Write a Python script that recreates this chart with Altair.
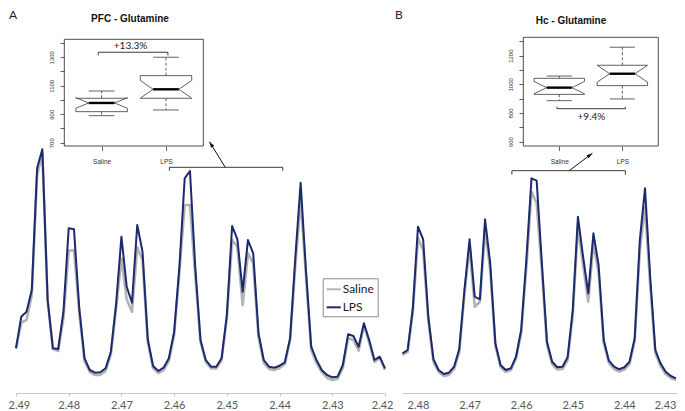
import altair as alt
import pandas as pd

# ---------------- data ----------------
ppm_A = [2.490, 2.489, 2.488, 2.487, 2.486, 2.485, 2.484, 2.483, 2.482, 2.481,
         2.480, 2.479, 2.478, 2.477, 2.476, 2.475, 2.474, 2.473, 2.472, 2.471,
         2.470, 2.469, 2.468, 2.467, 2.466, 2.465, 2.464, 2.463, 2.462, 2.461,
         2.460, 2.459, 2.458, 2.457, 2.456, 2.455, 2.454, 2.453, 2.452, 2.451,
         2.450, 2.449, 2.448, 2.447, 2.446, 2.445, 2.444, 2.443, 2.442, 2.441,
         2.440, 2.439, 2.438, 2.437, 2.436, 2.435, 2.434, 2.433, 2.432, 2.431,
         2.430, 2.429, 2.428, 2.427, 2.426, 2.425, 2.424, 2.423, 2.422, 2.421, 2.420]
saline_A = [47, 72.3, 75, 100, 219, 242, 95, 46, 44, 77,
            144.3, 145, 83, 34, 23, 20, 20, 24, 41, 87,
            136.7, 95.7, 83.3, 147.7, 135, 53, 27, 22, 25, 34,
            60, 123, 190, 190, 120, 53, 33, 26.5, 26.5, 35,
            77, 155, 148.3, 90, 141.7, 131.7, 58, 32, 26, 25,
            27, 31, 55, 130, 195, 120, 45, 32, 23, 17,
            15, 16, 27, 57, 55, 44.3, 70, 52, 33, 37, 25]
lps_A = [46.7, 78.3, 83.3, 105, 226.7, 245.7, 95, 46.7, 46, 83.3,
         166.7, 165.7, 86.7, 36.7, 25, 22.3, 22.7, 26.7, 43.3, 91.7,
         158.3, 108.3, 92.3, 170, 143.3, 55.7, 29, 24, 27.3, 36.7,
         63.3, 128.3, 216.7, 224, 128.3, 55, 35, 28.3, 28.3, 36.7,
         80, 169, 155.7, 103.3, 155, 141.7, 61.7, 35, 28.3, 27.3,
         29.3, 32.7, 56.7, 138.3, 212.3, 125, 48.3, 35, 25, 20,
         17.7, 18.3, 30, 60.7, 59, 48.3, 71.7, 55, 35, 38.3, 26.7]

ppm_B = [2.483, 2.482, 2.481, 2.480, 2.479, 2.478, 2.477, 2.476, 2.475, 2.474,
         2.473, 2.472, 2.471, 2.470, 2.469, 2.468, 2.467, 2.466, 2.465, 2.464,
         2.463, 2.462, 2.461, 2.460, 2.459, 2.458, 2.457, 2.456, 2.455, 2.454,
         2.453, 2.452, 2.451, 2.450, 2.449, 2.448, 2.447, 2.446, 2.445, 2.444,
         2.443, 2.442, 2.441, 2.440, 2.439, 2.438, 2.437, 2.436, 2.435, 2.434,
         2.433, 2.432, 2.431, 2.430]
saline_B = [40, 43, 83, 157, 145, 75, 33, 23, 19, 20,
            26, 43, 100, 148.3, 88.3, 93.3, 165, 125, 49, 28,
            23, 25, 36, 62, 127, 203.3, 191.7, 125, 50, 31,
            25.5, 26, 35, 80, 168.3, 130, 93.3, 151.7, 123, 52,
            32, 26, 23.5, 25.5, 31, 54, 145, 188.3, 110, 42,
            29, 21, 17, 15]
lps_B = [41.7, 45, 86.7, 168.3, 155.7, 78.3, 35.7, 25, 21, 22.3,
         28.3, 46, 105, 155.7, 98.3, 95.7, 175.7, 131.7, 51.7, 30,
         25, 26.7, 38.3, 65, 135, 216.7, 214.3, 133, 53.3, 33.3,
         27.7, 28.3, 37.7, 85, 178.3, 138.3, 101.7, 161.7, 130, 55,
         34.3, 28.3, 25.7, 27.7, 33.3, 56.7, 155, 206.7, 118.3, 45,
         31.7, 23.3, 19, 16.7]

groups = ["Saline", "LPS"]
series_colors = ["#b3b3b3", "#1a2a6c"]

# notched boxplot statistics (lower whisker, Q1, median, Q3, upper whisker, notch half-height)
pfc_low = [890, 930]
pfc_q1 = [918, 1012]
pfc_med = [979, 1075]
pfc_q3 = [1012, 1171]
pfc_high = [1063, 1300]
pfc_notch = [37, 62]

hc_low = [886, 898]
hc_q1 = [930, 991]
hc_med = [977, 1074]
hc_q3 = [1042, 1133]
hc_high = [1058, 1259]
hc_notch = [43, 59]

pfc_ticks = [700, 800, 900, 1000, 1100, 1200, 1300, 1400]
hc_ticks = [600, 700, 800, 900, 1000, 1100, 1200, 1300]
ppm_ticks_A = [2.49, 2.48, 2.47, 2.46, 2.45, 2.44, 2.43, 2.42]
ppm_ticks_B = [2.48, 2.47, 2.46, 2.45, 2.44, 2.43]

titles = ["PFC - Glutamine", "Hc - Glutamine"]
panel_letters = ["A", "B"]
pct_labels = ["+13.3%", "+9.4%"]

# ---------------- layout / styling ----------------
W, H = 669, 403
INK = "#3a3a3a"
AXIS_GREY = "#c8c8c8"
ARROW = "M0,0L-0.55,1.7L0.55,1.7Z"
BOX_W = 0.4


def yscale_spec():
    return alt.Scale(domain=[0, 387], range=[387, 0], nice=False, zero=False)


def spectrum(ppm, sal, lps, xdomain, xrange, axis, bracket, arrow, arrow_angle, legend):
    def xs():
        return alt.Scale(domain=xdomain, range=xrange, nice=False, zero=False)
    n = len(ppm)
    df = pd.DataFrame({"ppm": ppm + ppm, "intensity": sal + lps,
                       "group": [groups[0]] * n + [groups[1]] * n})
    color = alt.Color("group:N", scale=alt.Scale(domain=groups, range=series_colors), legend=legend)
    base = alt.Chart(df)
    sal_line = base.transform_filter(alt.datum.group == groups[0]).mark_line(
        strokeWidth=2.6, strokeJoin="round").encode(
        x=alt.X("ppm:Q", scale=xs(), axis=axis),
        y=alt.Y("intensity:Q", scale=yscale_spec(), axis=None), color=color)
    lps_line = base.transform_filter(alt.datum.group == groups[1]).mark_line(
        strokeWidth=2.0, strokeJoin="round").encode(
        x=alt.X("ppm:Q", scale=xs(), axis=None),
        y=alt.Y("intensity:Q", scale=yscale_spec(), axis=None), color=color)
    (bx0, bx1), (bline, btip) = bracket
    br = pd.DataFrame({"k": [0, 1, 2, 3], "ppm": [bx0, bx0, bx1, bx1],
                       "intensity": [btip, bline, bline, btip]})
    br_line = alt.Chart(br).mark_line(color=INK, strokeWidth=1).encode(
        x=alt.X("ppm:Q", scale=xs(), axis=None),
        y=alt.Y("intensity:Q", scale=yscale_spec(), axis=None), order="k:Q")
    (ax0, ax1), (ay0, ay1) = arrow
    ar = pd.DataFrame({"k": [0, 1], "ppm": [ax0, ax1], "intensity": [ay0, ay1]})
    ar_line = alt.Chart(ar).mark_line(color="#111111", strokeWidth=1).encode(
        x=alt.X("ppm:Q", scale=xs(), axis=None),
        y=alt.Y("intensity:Q", scale=yscale_spec(), axis=None), order="k:Q")
    ar_head = alt.Chart(ar.iloc[[1]]).mark_point(
        shape=ARROW, filled=True, size=49, angle=arrow_angle, color="#111111", opacity=1).encode(
        x=alt.X("ppm:Q", scale=xs(), axis=None),
        y=alt.Y("intensity:Q", scale=yscale_spec(), axis=None))
    return [sal_line, lps_line, br_line, ar_line, ar_head]


def inset(low, q1, med, q3, high, notch, xlim, ylim, xrange, yrange, ticks, label_rule,
          pct_text, bracket, text_pos):
    def xs():
        return alt.Scale(domain=xlim, range=xrange, nice=False, zero=False)

    def ys():
        return alt.Scale(domain=ylim, range=yrange, nice=False, zero=False)

    poly, whisk, staple, median = [], [], [], []
    fx = [-1, 1, 1, 0.5, 1, 1, -1, -1, -0.5, -1, -1]
    for i, g in enumerate(groups):
        c = i + 1
        lo, hi = med[i] - notch[i], med[i] + notch[i]
        fy = [q1[i], q1[i], lo, med[i], hi, q3[i], q3[i], hi, med[i], lo, q1[i]]
        for k, (a, b) in enumerate(zip(fx, fy)):
            poly.append({"g": g, "k": k, "x": c + BOX_W * a, "y": b})
        whisk += [{"x": c, "y": q3[i], "y2": high[i]}, {"x": c, "y": q1[i], "y2": low[i]}]
        staple += [{"x": c - BOX_W / 2, "x2": c + BOX_W / 2, "y": high[i]},
                   {"x": c - BOX_W / 2, "x2": c + BOX_W / 2, "y": low[i]}]
        median.append({"x": c - BOX_W / 2, "x2": c + BOX_W / 2, "y": med[i]})

    xaxis = alt.Axis(orient="bottom", offset=yrange[0] - H, values=[1, 2],
                     labelExpr=f"datum.value == 1 ? '{groups[0]}' : '{groups[1]}'",
                     tickSize=4.5, tickColor=INK, tickWidth=0.8, domain=False, grid=False,
                     labelFont="Liberation Sans", labelFontSize=6.5, labelColor="#333333",
                     labelPadding=8, labelFlush=False, labelOverlap=False, title=None)
    yaxis = alt.Axis(orient="left", offset=-xrange[0], values=ticks, format="d",
                     labelExpr=label_rule,
                     tickSize=4.3, tickColor=INK, tickWidth=0.8, domain=False, grid=False,
                     labelFont="Liberation Sans", labelFontSize=6, labelColor="#333333",
                     labelAngle=270, labelAlign="center", labelBaseline="bottom",
                     labelPadding=6, labelFlush=False, labelOverlap=False, title=None)

    frame = alt.Chart(pd.DataFrame({"x": [xlim[0]], "x2": [xlim[1]], "y": [ylim[0]], "y2": [ylim[1]]})
                      ).mark_rect(filled=False, stroke=INK, strokeWidth=0.9).encode(
        x=alt.X("x:Q", scale=xs(), axis=xaxis), x2="x2:Q",
        y=alt.Y("y:Q", scale=ys(), axis=yaxis), y2="y2:Q")

    def X():
        return alt.X("x:Q", scale=xs(), axis=None)

    def Y():
        return alt.Y("y:Q", scale=ys(), axis=None)

    boxes = alt.Chart(pd.DataFrame(poly)).mark_line(color=INK, strokeWidth=0.8).encode(
        x=X(), y=Y(), detail="g:N", order="k:Q")
    wh = alt.Chart(pd.DataFrame(whisk)).mark_rule(color=INK, strokeWidth=0.8, strokeDash=[3, 2]).encode(
        x=X(), y=Y(), y2="y2:Q")
    st = alt.Chart(pd.DataFrame(staple)).mark_rule(color=INK, strokeWidth=0.8).encode(
        x=X(), x2="x2:Q", y=Y())
    md = alt.Chart(pd.DataFrame(median)).mark_rule(color="#000000", strokeWidth=2.4).encode(
        x=X(), x2="x2:Q", y=Y())
    (bx0, bx1), (bline, btip) = bracket
    br = alt.Chart(pd.DataFrame({"k": [0, 1, 2, 3], "x": [bx0, bx0, bx1, bx1],
                                 "y": [btip, bline, bline, btip]})).mark_line(
        color=INK, strokeWidth=1).encode(x=X(), y=Y(), order="k:Q")
    pct = alt.Chart(pd.DataFrame({"x": [text_pos[0]], "y": [text_pos[1]], "t": [pct_text]})).mark_text(
        font="Lato", fontSize=10, color="#222222", baseline="middle").encode(x=X(), y=Y(), text="t:N")
    return [frame, boxes, wh, st, md, br, pct]


def label(text, x, y, **kw):
    return alt.Chart(pd.DataFrame({"t": [text]})).mark_text(**kw).encode(
        x=alt.value(x), y=alt.value(y), text="t:N")


legend = alt.Legend(orient="none", legendX=314.7, legendY=270.3, title=None,
                    strokeColor="#8c8c8c", fillColor="white", padding=3,
                    symbolType="stroke", symbolSize=196, symbolStrokeWidth=2,
                    labelFont="Lato", labelFontSize=12, labelColor="#222222",
                    labelOffset=1, rowPadding=4)

axisA = alt.Axis(orient="bottom", offset=385 - H, values=ppm_ticks_A, format=".2f",
                 labelFont="Lato", labelFontSize=11, labelColor="#595959",
                 tickSize=3, tickColor=AXIS_GREY, domainColor=AXIS_GREY, domainWidth=1,
                 labelPadding=3.5, grid=False, title=None, labelFlush=5, labelFlushOffset=8,
                 labelOverlap=False)
axisB = alt.Axis(orient="bottom", offset=385 - H, values=ppm_ticks_B, format=".2f",
                 labelFont="Lato", labelFontSize=11, labelColor="#595959",
                 ticks=False, domainColor=AXIS_GREY, domainWidth=1,
                 labelPadding=6.5, grid=False, title=None, labelFlush=5, labelFlushOffset=0,
                 labelOverlap=False)

layers = []
layers += spectrum(ppm_A, saline_A, lps_A, [2.49, 2.42], [8, 377], axisA,
                   ((2.4609, 2.4394), (227.7, 224.3)), ((2.4503, 2.4533), (227.7, 253.3)), 328, legend)
layers += spectrum(ppm_B, saline_B, lps_B, [2.483, 2.4298], [394.5, 669], axisB,
                   ((2.4618, 2.4398), (224.3, 220.3)), ((2.4507, 2.4462), (224.3, 241.7)), 54, None)
layers += inset(pfc_low, pfc_q1, pfc_med, pfc_q3, pfc_high, pfc_notch,
                [0.42, 2.58], [677, 1426], [56.3, 195.3], [138, 31.3], pfc_ticks,
                "datum.value % 200 == 100 ? datum.label : ''",
                pct_labels[0], ((0.947, 2.03), (1335, 1313)), (1.45, 1376))
layers += inset(hc_low, hc_q1, hc_med, hc_q3, hc_high, hc_notch,
                [0.43, 2.57], [570, 1328], [515.3, 650.3], [138, 29.3], hc_ticks,
                "datum.value % 200 == 0 ? datum.label : ''",
                pct_labels[1], ((0.964, 2.047), (830, 844)), (1.51, 774))
layers += [
    label(panel_letters[0], 1, 2, font="Lato", fontSize=12, color="#222222", align="left", baseline="top"),
    label(panel_letters[1], 387, 2, font="Lato", fontSize=12, color="#222222", align="left", baseline="top"),
    label(titles[0], 122, 11, font="Liberation Sans", fontSize=10, fontWeight="bold", color="#111111",
          align="center", baseline="middle"),
    label(titles[1], 563, 13, font="Liberation Sans", fontSize=10, fontWeight="bold", color="#111111",
          align="center", baseline="middle"),
]

chart = alt.layer(*layers).resolve_scale(
    x="independent", y="independent"
).properties(
    width=W, height=H, padding=0, background="white",
    autosize=alt.AutoSizeParams(type="none"),
).configure_view(stroke=None)

chart.save("out.html", embed_options={"renderer": "svg", "actions": False})
